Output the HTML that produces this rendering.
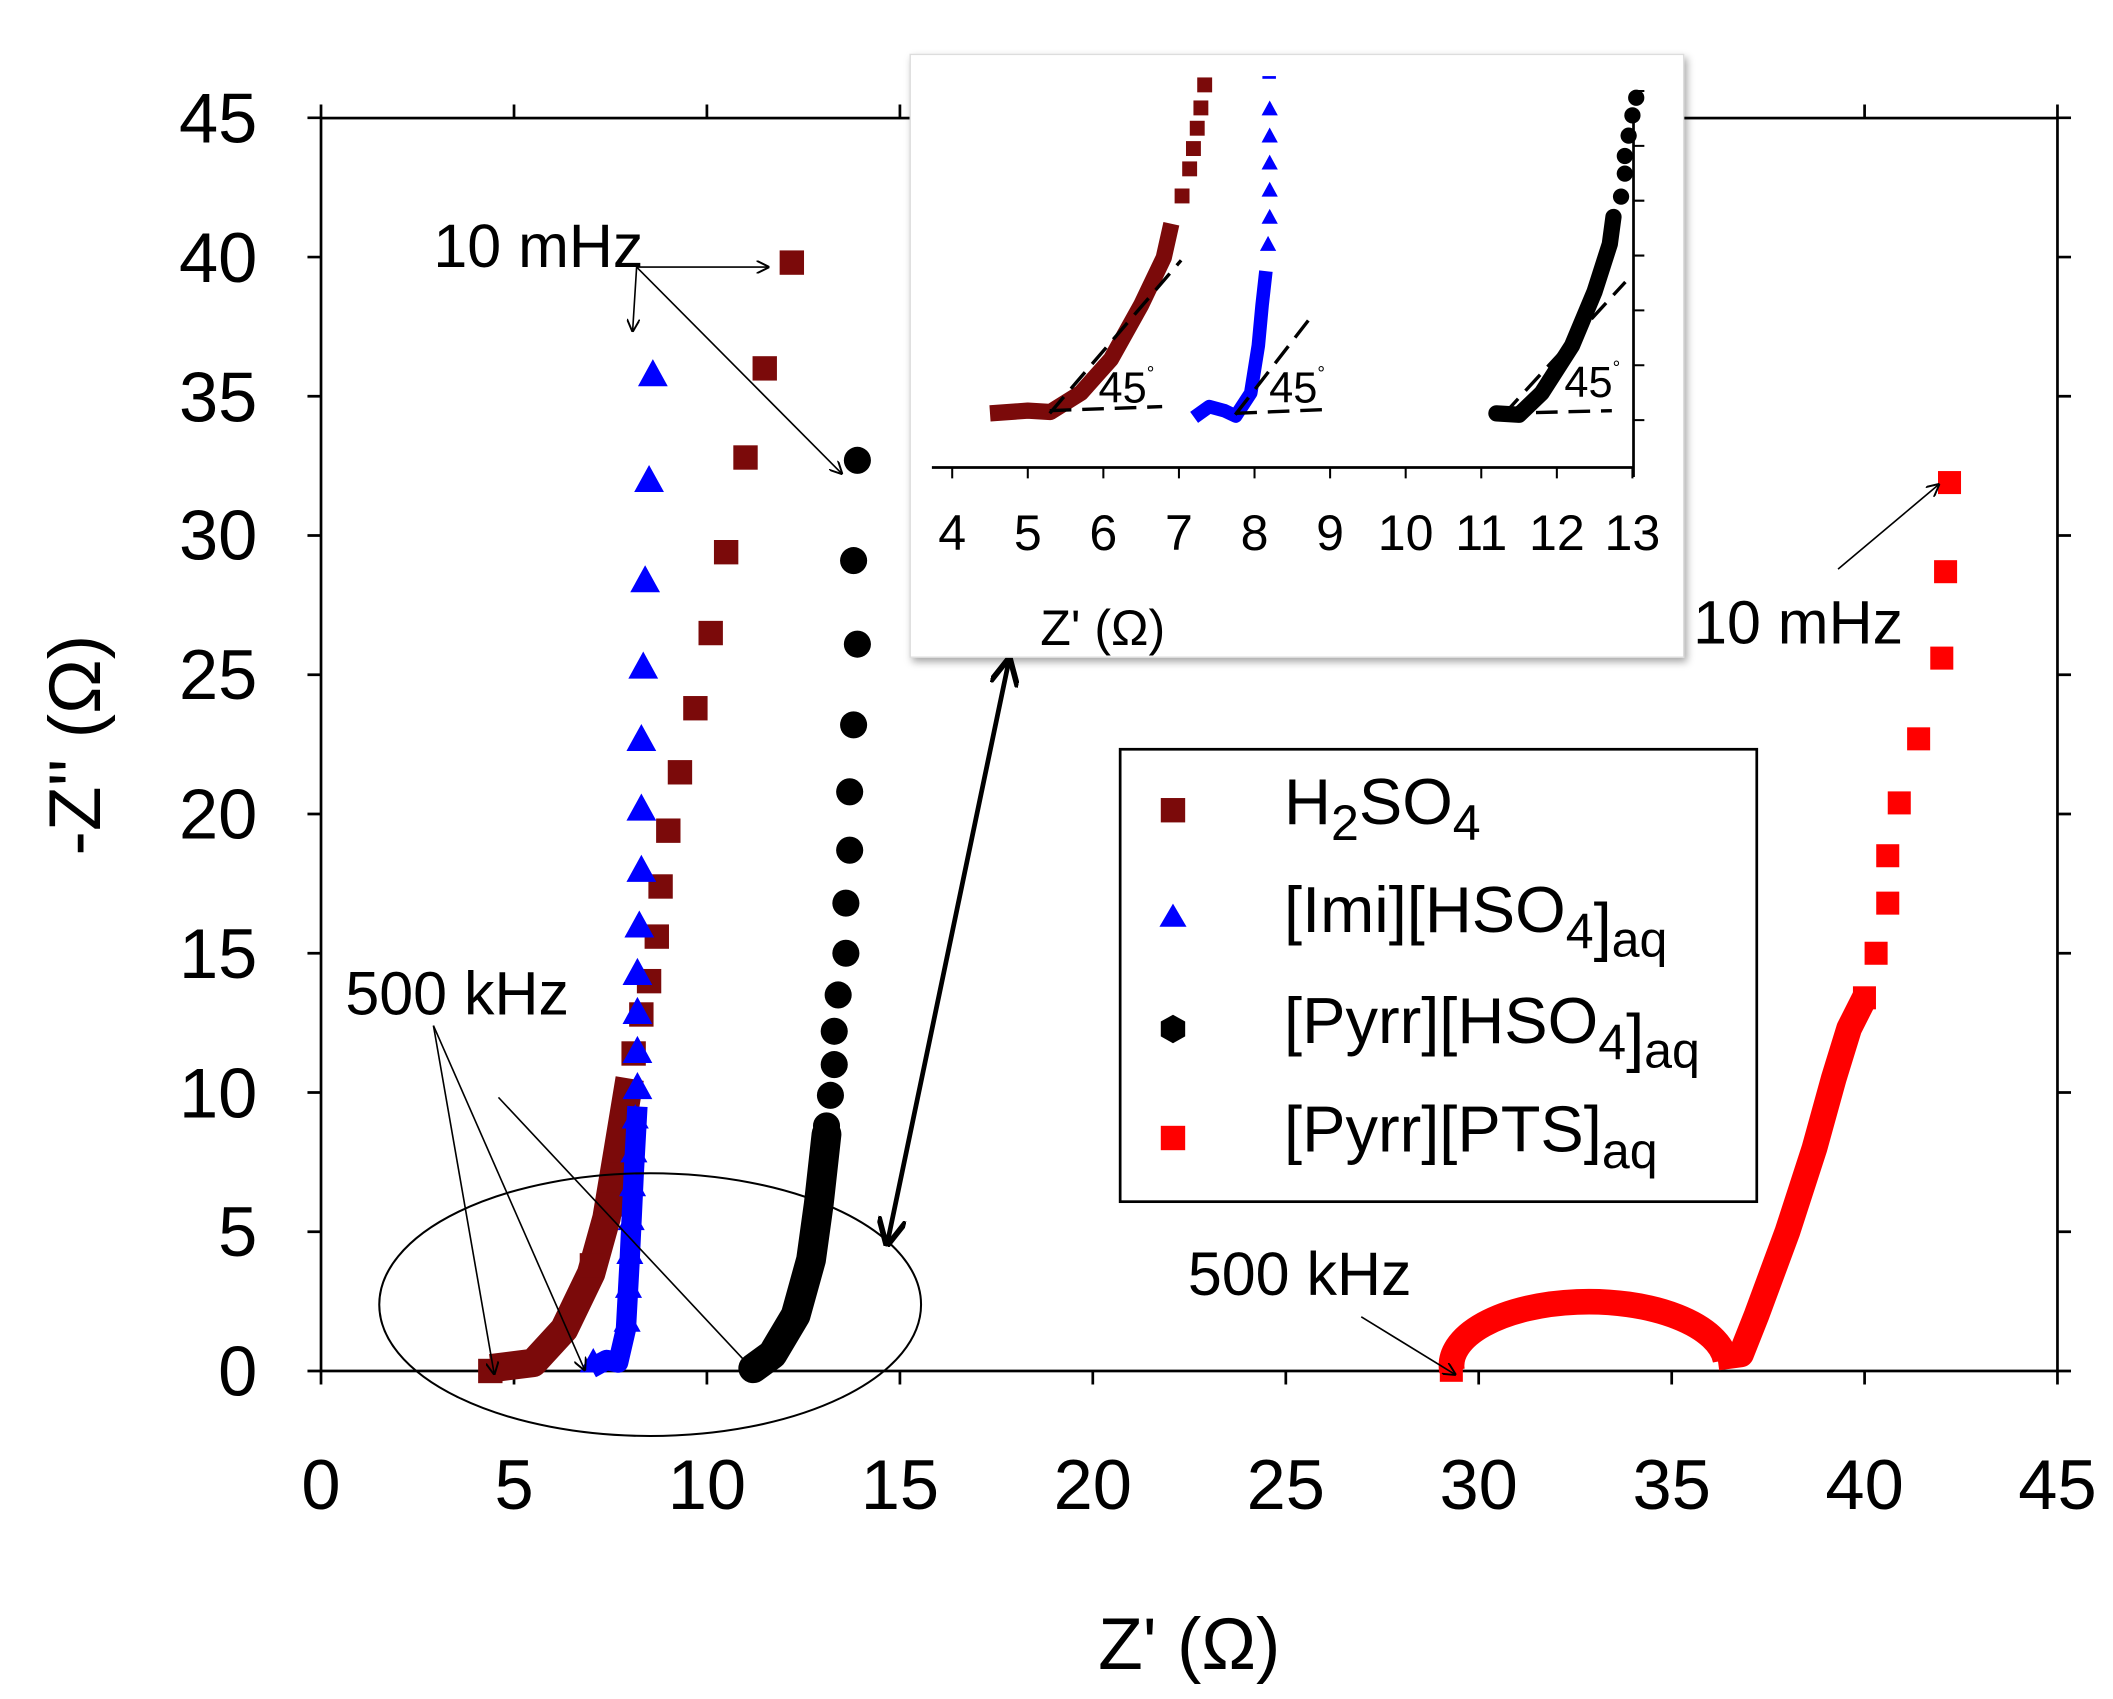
<!DOCTYPE html>
<html><head><meta charset="utf-8"><style>
html,body{margin:0;padding:0;background:#fff;}
svg{display:block;font-family:"Liberation Sans",Arial,sans-serif;}
</style></head><body>
<svg width="2113" height="1699" viewBox="0 0 1560 1254" xmlns="http://www.w3.org/2000/svg">
<defs>
<marker id="ah" viewBox="0 0 10 10" refX="10" refY="5" markerWidth="8" markerHeight="8" orient="auto-start-reverse"><path d="M0,0 L10,5 L0,10" fill="none" stroke="#000" stroke-width="1.5"/></marker>
<marker id="ahb" viewBox="0 0 10 10" refX="9" refY="5" markerWidth="6" markerHeight="6" orient="auto-start-reverse"><path d="M0,0 L10,5 L0,10" fill="none" stroke="#000" stroke-width="2"/></marker>
<filter id="sh" x="-5%" y="-5%" width="110%" height="115%"><feDropShadow dx="2" dy="3" stdDeviation="3" flood-color="#000" flood-opacity="0.35"/></filter>
<clipPath id="ic"><rect x="672" y="40" width="571" height="445"/></clipPath>
</defs>
<rect width="1560" height="1254" fill="#fff"/>
<rect x="237" y="87" width="1282" height="925" fill="none" stroke="#000" stroke-width="2"/>
<g stroke="#000" stroke-width="2">
<path d="M237 1012v10M379.5 1012v10M521.9 1012v10M664.4 1012v10M806.8 1012v10M949.3 1012v10M1091.7 1012v10M1234.2 1012v10M1376.6 1012v10M1519 1012v10"/>
<path d="M237 87v-10M379.5 87v-10M521.9 87v-10M664.4 87v-10M806.8 87v-10M949.3 87v-10M1091.7 87v-10M1234.2 87v-10M1376.6 87v-10M1519 87v-10"/>
<path d="M237 1012h-10M237 909.2h-10M237 806.4h-10M237 703.6h-10M237 600.8h-10M237 498h-10M237 395.2h-10M237 292.4h-10M237 189.6h-10M237 86.8h-10"/>
<path d="M1519 1012h10M1519 909.2h10M1519 806.4h10M1519 703.6h10M1519 600.8h10M1519 498h10M1519 395.2h10M1519 292.4h10M1519 189.6h10M1519 86.8h10"/>
</g>
<g font-size="52" fill="#000" text-anchor="middle">
<text x="237" y="1114">0</text><text x="379.5" y="1114">5</text><text x="521.9" y="1114">10</text><text x="664.4" y="1114">15</text><text x="806.8" y="1114">20</text><text x="949.3" y="1114">25</text><text x="1091.7" y="1114">30</text><text x="1234.2" y="1114">35</text><text x="1376.6" y="1114">40</text><text x="1519" y="1114">45</text>
</g>
<g font-size="52" fill="#000" text-anchor="end">
<text x="190" y="1030">0</text><text x="190" y="927">5</text><text x="190" y="825">10</text><text x="190" y="722">15</text><text x="190" y="619">20</text><text x="190" y="516">25</text><text x="190" y="413">30</text><text x="190" y="311">35</text><text x="190" y="208">40</text><text x="190" y="105">45</text>
</g>
<text x="878" y="1232" font-size="54" text-anchor="middle">Z' (Ω)</text>
<text transform="translate(74,550) rotate(-90)" font-size="54" text-anchor="middle">-Z'' (Ω)</text>

<!-- brown -->
<g fill="#7b0a0a">
<polyline points="362.4,1010 393.7,1006 416.5,981.2 436.4,940 447.8,899 456.4,847.5 464.9,796.1" fill="none" stroke="#7b0a0a" stroke-width="21" stroke-linejoin="round"/>
<rect x="575.6" y="184.7" width="18" height="18"/><rect x="555.6" y="262.8" width="18" height="18"/><rect x="541.4" y="328.6" width="18" height="18"/><rect x="527.1" y="398.5" width="18" height="18"/><rect x="515.7" y="458.2" width="18" height="18"/><rect x="504.4" y="513.7" width="18" height="18"/><rect x="493" y="561" width="18" height="18"/><rect x="484.4" y="604.1" width="18" height="18"/><rect x="478.7" y="645.3" width="18" height="18"/><rect x="475.9" y="682.3" width="18" height="18"/><rect x="470.2" y="715.2" width="18" height="18"/><rect x="464.5" y="739.8" width="18" height="18"/><rect x="458.8" y="768.6" width="18" height="18"/>
<rect x="353" y="1003" width="18" height="18"/><rect x="428" y="925" width="18" height="18"/><rect x="442" y="880" width="18" height="18"/><rect x="448" y="840" width="18" height="18"/>
</g>
<!-- blue -->
<g fill="#0000ff">
<polyline points="436.4,1010 447.8,1003.8 456.4,1005.8 462.1,981.2 464.9,929.8 467.8,868.1 470.6,816.7" fill="none" stroke="#0000ff" stroke-width="15" stroke-linejoin="round"/>
<path d="M482,265l11,20h-22zM479.2,343.1l11,20h-22zM476.3,417.1l11,20h-22zM474.9,480.8l11,20h-22zM473.5,534.3l11,20h-22zM473.5,585.7l11,20h-22zM473.5,630.9l11,20h-22zM472,672l11,20h-22zM470.6,707l11,20h-22zM470.6,735.8l11,20h-22zM470.6,764.6l11,20h-22zM470.6,791.3l11,20h-22zM469,815l10,18h-20zM468,840l10,18h-20zM467,865l10,18h-20zM466,890l10,18h-20zM465,915l10,18h-20zM464,940l10,18h-20zM463,965l10,18h-20zM438,995l10,18h-20z"/>
</g>
<!-- black -->
<g fill="#000">
<polyline points="556.1,1010 570.3,999.7 587.4,970.9 598.8,929.8 604.5,888.6 610.2,837.2" fill="none" stroke="#000" stroke-width="22" stroke-linejoin="round" stroke-linecap="round"/>
<circle cx="633" cy="339.7" r="10"/><circle cx="630.2" cy="413.7" r="10"/><circle cx="633" cy="475.4" r="10"/><circle cx="630.2" cy="535" r="10"/><circle cx="627.3" cy="584.4" r="10"/><circle cx="627.3" cy="627.5" r="10"/><circle cx="624.5" cy="666.6" r="10"/><circle cx="624.5" cy="703.6" r="10"/><circle cx="618.8" cy="734.4" r="10"/><circle cx="615.9" cy="761.2" r="10"/><circle cx="615.9" cy="785.8" r="10"/><circle cx="613.1" cy="808.5" r="10"/><circle cx="610.2" cy="831.1" r="10"/>
</g>
<!-- red -->
<g fill="#ff0000">
<path d="M1072 1012 A101 47 0 0 1 1274 1004" fill="none" stroke="#ff0000" stroke-width="19"/>
<polyline points="1268,1002 1285.4,999.7 1296.8,970.9 1319.6,909.2 1339.6,847.5 1353.8,796.1 1365.2,759.1 1376.6,736.5" fill="none" stroke="#ff0000" stroke-width="19" stroke-linejoin="round"/>
<rect x="1063" y="1003" width="17" height="17"/>
<rect x="1368" y="728" width="17" height="17"/><rect x="1376.6" y="695.1" width="17" height="17"/><rect x="1385.2" y="658.1" width="17" height="17"/><rect x="1385.2" y="623.1" width="17" height="17"/><rect x="1393.7" y="584.1" width="17" height="17"/><rect x="1408" y="536.8" width="17" height="17"/><rect x="1425.1" y="477.2" width="17" height="17"/><rect x="1427.9" y="413.4" width="17" height="17"/><rect x="1430.8" y="347.6" width="17" height="17"/>
</g>

<!-- annotations -->
<g stroke="#000" stroke-width="1.2" fill="none">
<line x1="470" y1="197" x2="568" y2="197" marker-end="url(#ah)"/>
<line x1="470" y1="197" x2="467" y2="245" marker-end="url(#ah)"/>
<line x1="470" y1="197" x2="622" y2="350" marker-end="url(#ah)"/>
<line x1="1357" y1="420" x2="1432" y2="357" marker-end="url(#ah)"/>
<line x1="320" y1="757" x2="365" y2="1015" marker-end="url(#ah)"/>
<line x1="320" y1="757" x2="432" y2="1012" marker-end="url(#ah)"/>
<line x1="368" y1="810" x2="555" y2="1010"/>
<line x1="1005" y1="972" x2="1075" y2="1015" marker-end="url(#ah)"/>
<ellipse cx="480" cy="963" rx="200" ry="97" stroke-width="1.5"/>
<line x1="745" y1="487" x2="655" y2="918" stroke-width="3.5" marker-start="url(#ahb)" marker-end="url(#ahb)"/>
</g>
<g font-size="45" fill="#000">
<text x="320" y="197">10 mHz</text>
<text x="1250" y="475">10 mHz</text>
<text x="255" y="749">500 kHz</text>
<text x="877" y="956">500 kHz</text>
</g>
<!-- legend -->
<rect x="827" y="553" width="470" height="334" fill="#fff" stroke="#000" stroke-width="2"/>
<g font-size="48" fill="#000">
<text x="948" y="608">H<tspan font-size="37" dy="12">2</tspan><tspan dy="-12">SO</tspan><tspan font-size="37" dy="12">4</tspan></text>
<text x="948" y="688">[Imi][HSO<tspan font-size="37" dy="12">4</tspan><tspan>]</tspan><tspan font-size="37" dy="6">aq</tspan></text>
<text x="948" y="770">[Pyrr][HSO<tspan font-size="37" dy="12">4</tspan><tspan>]</tspan><tspan font-size="37" dy="6">aq</tspan></text>
<text x="948" y="850">[Pyrr][PTS]<tspan font-size="37" dy="12">aq</tspan></text>
</g>
<rect x="857" y="589" width="18" height="18" fill="#7b0a0a"/>
<polygon points="866,667 876,684 856,684" fill="#0000ff"/>
<polygon points="866,749 875,754 875,765 866,770 857,765 857,754" fill="#000"/>
<rect x="857" y="831" width="18" height="18" fill="#ff0000"/>
<!-- inset -->
<rect x="672" y="40" width="571" height="445" fill="#fff" filter="url(#sh)" stroke="#ddd" stroke-width="1"/>
<g clip-path="url(#ic)">
<g stroke="#000" stroke-width="2" fill="none">
<line x1="688" y1="345" x2="1206" y2="345"/>
<line x1="1206" y1="82" x2="1206" y2="352"/>
</g>
<g stroke="#000" stroke-width="1.5">
<path d="M703 345v8M758.8 345v8M814.6 345v8M870.4 345v8M926.2 345v8M982 345v8M1037.8 345v8M1093.6 345v8M1149.4 345v8M1205.2 345v8"/>
<path d="M1206 310h8M1206 269.5h8M1206 229h8M1206 188.5h8M1206 148h8M1206 107.5h8M1206 67h8"/>
</g>
<g font-size="37" fill="#000" text-anchor="middle">
<text x="703" y="406">4</text><text x="758.8" y="406">5</text><text x="814.6" y="406">6</text><text x="870.4" y="406">7</text><text x="926.2" y="406">8</text><text x="982" y="406">9</text><text x="1037.8" y="406">10</text><text x="1093.6" y="406">11</text><text x="1149.4" y="406">12</text><text x="1205.2" y="406">13</text>
</g>
<text x="768" y="476" font-size="37" fill="#000">Z' (Ω)</text>
<polyline points="730.9,305 758.8,303 775.5,304 797.9,290 820.2,265 842.5,225 859.2,190 864.8,165" fill="none" stroke="#7b0a0a" stroke-width="12" stroke-linejoin="round"/>
<g fill="#7b0a0a">
<rect x="867.2" y="139" width="11" height="11"/><rect x="872.8" y="119" width="11" height="11"/><rect x="875.6" y="104" width="11" height="11"/><rect x="878.4" y="89" width="11" height="11"/><rect x="881.1" y="74" width="11" height="11"/><rect x="883.9" y="57" width="11" height="11"/>
</g>
<polyline points="881.6,308 892.7,300 903.9,303 912.3,307 923.4,290 929,255 931.8,225 934.6,200" fill="none" stroke="#0000ff" stroke-width="10" stroke-linejoin="round"/>
<g fill="#0000ff">
<path d="M936.2,174l6,11h-12zM937.4,154l6,11h-12zM937.4,134l6,11h-12zM937.4,114l6,11h-12zM937.4,94l6,11h-12zM937.4,74l6,11h-12z"/>
<rect x="932" y="56" width="10" height="2"/>
</g>
<polyline points="1104.8,305 1121.5,306 1138.2,290 1160.6,255 1177.3,215 1188.5,180 1191.2,160" fill="none" stroke="#000" stroke-width="12" stroke-linejoin="round" stroke-linecap="round"/>
<g fill="#000">
<circle cx="1196.8" cy="145" r="6"/><circle cx="1199.6" cy="128" r="6"/><circle cx="1199.6" cy="115" r="6"/><circle cx="1202.4" cy="100" r="6"/><circle cx="1205.2" cy="85" r="6"/><circle cx="1208" cy="72" r="6"/>
</g>
<g stroke="#000" stroke-width="2.5" fill="none" stroke-dasharray="16,8">
<line x1="775" y1="305" x2="872" y2="192"/>
<line x1="775" y1="303" x2="858" y2="300"/>
<line x1="912" y1="306" x2="967" y2="235"/>
<line x1="912" y1="305" x2="982" y2="302"/>
<line x1="1110" y1="306" x2="1200" y2="208"/>
<line x1="1110" y1="305" x2="1190" y2="303"/>
</g>
<g font-size="32" fill="#000">
<text x="811" y="297">45<tspan font-size="14" dy="-17">°</tspan></text>
<text x="937" y="297">45<tspan font-size="14" dy="-17">°</tspan></text>
<text x="1155" y="293">45<tspan font-size="14" dy="-17">°</tspan></text>
</g>
</g>
</svg>
</body></html>
